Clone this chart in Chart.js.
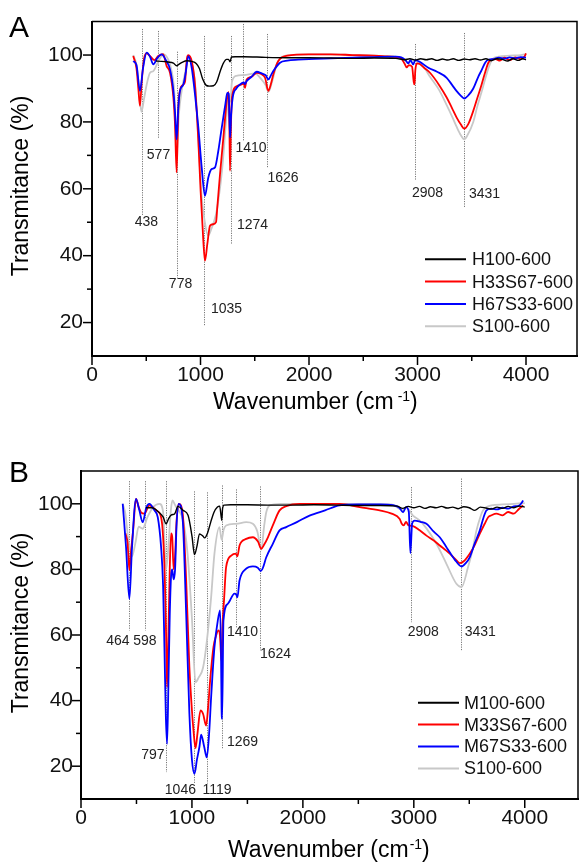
<!DOCTYPE html>
<html>
<head>
<meta charset="utf-8">
<script src="https://cdn.jsdelivr.net/npm/chart.js@4.4.1/dist/chart.umd.min.js"></script>
<style>
  html, body { margin: 0; padding: 0; background: #fff; }
  #wrap { position: relative; width: 580px; height: 864px; }
  canvas { position: absolute; left: 0; }
  #chartA { top: 0; }
  #chartB { top: 420px; }
</style>
</head>
<body>
<div id="wrap">
  <canvas id="chartA" width="580" height="420"></canvas>
  <canvas id="chartB" width="580" height="444"></canvas>
</div>
<script>
const FONT = '"Liberation Sans", Arial, sans-serif';

// axis ticks
const xTickValues = [0, 500, 1000, 1500, 2000, 2500, 3000, 3500, 4000];
const xTickLabels = ['0', '1000', '2000', '3000', '4000'];
const yTickLabels = ['20', '40', '60', '80', '100'];

// ---- panel A: FTIR spectra (wavenumber, transmittance %) ----
const seriesA = ['H100-600', 'H33S67-600', 'H67S33-600', 'S100-600'];

const waveA_H100 = [590, 640, 700, 750, 780, 800, 830, 875, 920, 960, 990, 1020, 1050, 1080, 1120, 1150, 1180, 1210, 1240, 1258, 1272, 1286, 1320, 1400, 1600, 1800, 2000, 2200, 2400, 2600, 2800, 2880, 2930, 2980, 3030, 3080, 3130, 3180, 3230, 3280, 3330, 3380, 3430, 3480, 3530, 3580, 3630, 3680, 3730, 3780, 3830, 3880, 3930, 3970, 4000];
const transA_H100 = [98.2, 98.1, 97.9, 97.6, 96.8, 97.2, 97.8, 98.3, 98.1, 97.5, 96, 92.8, 91, 90.7, 90.8, 92, 95, 97.5, 98.7, 98.7, 98.0, 99.4, 99.5, 99.5, 99.3, 99.2, 99.2, 99.1, 99.0, 99.1, 99.0, 98.6, 98.9, 98.5, 98.9, 98.6, 98.9, 98.4, 98.8, 98.5, 98.9, 98.4, 98.8, 98.6, 98.9, 98.5, 98.9, 98.3, 98.9, 98.7, 98.2, 98.9, 98.4, 98.9, 98.6];

const waveA_H33 = [380, 410, 427, 442, 458, 480, 504, 540, 575, 610, 655, 688, 719, 750, 765, 780, 796, 811, 836, 857, 875, 888, 919, 949, 980, 1001, 1026, 1041, 1063, 1088, 1118, 1143, 1155, 1180, 1210, 1241, 1258, 1266, 1272, 1280, 1290, 1333, 1380, 1400, 1410, 1425, 1470, 1518, 1560, 1595, 1625, 1650, 1671, 1717, 1800, 2000, 2200, 2400, 2600, 2700, 2840, 2880, 2900, 2920, 2950, 2965, 2972, 2980, 2995, 3020, 3060, 3115, 3200, 3269, 3320, 3361, 3400, 3431, 3470, 3514, 3550, 3591, 3625, 3653, 3680, 3720, 3760, 3800, 3850, 3900, 3950, 3985, 4000];
const transA_H33 = [99.7, 96, 90, 84.8, 92, 99, 100.5, 99.5, 98.5, 99.7, 100.3, 96.7, 94.7, 87.3, 79.3, 64.9, 84.5, 89.5, 91, 92, 99, 100, 98.2, 91.2, 74.3, 59.4, 44.5, 38.5, 43.5, 49, 49.4, 50, 54.5, 64.4, 75, 86, 89, 80, 65.4, 78, 87.3, 90.7, 91.2, 91.5, 90.2, 92.7, 93.5, 94.7, 94.3, 93.2, 89.3, 91.5, 94.2, 98.2, 99.8, 100.2, 100.2, 100, 99.8, 99.6, 99.2, 97.5, 96.3, 97, 96.5, 92, 91.2, 95.5, 97.5, 97.3, 96.2, 94.7, 91, 87.3, 84, 81.3, 79.2, 78, 79.5, 83.3, 87, 91.2, 95, 97.7, 98.6, 98.8, 98.3, 99.2, 98.5, 99.3, 98.8, 99.5, 100.5];

const waveA_H67 = [380, 410, 442, 470, 504, 535, 565, 600, 642, 680, 719, 750, 765, 780, 795, 811, 842, 865, 888, 919, 949, 980, 1011, 1041, 1072, 1103, 1134, 1164, 1190, 1210, 1230, 1247, 1260, 1272, 1282, 1297, 1330, 1364, 1400, 1410, 1425, 1470, 1518, 1564, 1600, 1625, 1650, 1671, 1733, 1800, 1900, 2000, 2200, 2400, 2600, 2800, 2850, 2890, 2915, 2935, 2960, 2980, 3020, 3100, 3180, 3269, 3320, 3361, 3400, 3431, 3470, 3514, 3560, 3591, 3625, 3653, 3700, 3750, 3800, 3850, 3900, 3950, 4000];
const transA_H67 = [98.2, 97, 89.3, 96, 100.7, 99.5, 97.2, 99, 100.2, 98.5, 95.7, 89.3, 83, 74.8, 84, 89.3, 91.2, 95, 99.7, 96.2, 88.3, 78.4, 66.4, 57.9, 63.4, 65.9, 66.4, 71.3, 77, 81.3, 85.5, 88.7, 88.5, 75.3, 82, 87.3, 90, 91.2, 91.8, 91.3, 92.2, 93.5, 95, 94.5, 94, 92.7, 94, 95.2, 97.7, 98.3, 98.6, 98.8, 99, 99.2, 99.4, 99.5, 99.3, 98.5, 97.5, 98.5, 97.2, 98.5, 98, 96.2, 95, 93.2, 91, 89.2, 87.8, 87, 88, 90, 93.5, 95.5, 97.8, 98.6, 98.8, 99.2, 98.9, 99.3, 99, 99.4, 99.2];

const waveA_S100 = [380, 410, 432, 455, 480, 504, 535, 565, 613, 657, 700, 737, 760, 780, 800, 830, 860, 885, 920, 950, 980, 1010, 1040, 1070, 1100, 1140, 1164, 1200, 1240, 1262, 1274, 1290, 1330, 1400, 1500, 1560, 1600, 1626, 1660, 1700, 1750, 1850, 2000, 2200, 2400, 2600, 2800, 2880, 2915, 2950, 2980, 3000, 3050, 3115, 3200, 3269, 3320, 3361, 3400, 3431, 3460, 3514, 3550, 3591, 3625, 3653, 3690, 3750, 3850, 3950, 4000];
const transA_S100 = [100, 97, 91, 83, 87, 91.2, 94.7, 95.2, 98.2, 100.2, 98.8, 94.7, 88, 70, 82, 90, 95, 99.5, 97, 91.5, 75, 58, 50, 46, 48, 52, 56.4, 66, 82, 88, 86, 92, 93.8, 94, 94.5, 92.8, 91, 89, 92, 97, 99.5, 100, 100.2, 100.2, 100, 99.8, 99.5, 98.5, 97.5, 98.5, 98.2, 98, 96.8, 93.5, 89.5, 85, 81.5, 78.5, 76, 74.8, 76, 80, 84.5, 89, 93, 96, 98.8, 99.5, 99.8, 100, 100.3];

const peakTextA = ['438', '577', '778', '1035', '1274', '1410', '1626', '2908', '3431'];
const peakWaveA = [458, 605, 781, 1032, 1278, 1389, 1610, 2977, 3426];

// ---- panel B ----
const seriesB = ['M100-600', 'M33S67-600', 'M67S33-600', 'S100-600'];

const waveB_M100 = [585, 640, 700, 740, 767, 790, 815, 845, 874, 920, 965, 1001, 1023, 1045, 1068, 1095, 1115, 1140, 1170, 1200, 1230, 1250, 1262, 1269, 1276, 1290, 1350, 1500, 1700, 1900, 2100, 2300, 2500, 2700, 2850, 2900, 2950, 3000, 3050, 3100, 3150, 3200, 3250, 3300, 3350, 3400, 3450, 3500, 3550, 3600, 3650, 3700, 3750, 3800, 3850, 3900, 3950, 4000];
const transB_M100 = [98.8, 98.8, 97.5, 96, 93.9, 95.5, 96.6, 97, 99.2, 98, 96.5, 90, 84.5, 87, 90.8, 90.3, 89.6, 91, 94.5, 97.5, 99, 99.3, 96.5, 95, 98.5, 99.6, 99.7, 99.7, 99.6, 99.6, 99.7, 99.6, 99.5, 99.5, 99.3, 98.6, 99.2, 98.8, 99.2, 98.6, 99.1, 98.8, 99.2, 98.7, 99.0, 98.5, 99.1, 98.8, 98.0, 99.0, 98.7, 98.4, 99.0, 98.6, 99.2, 98.8, 99.3, 99.0];

const waveB_M33 = [400, 420, 436, 452, 470, 496, 520, 541, 571, 616, 677, 722, 740, 755, 767, 776, 788, 800, 812, 822, 835, 848, 862, 883, 917, 948, 977, 1000, 1014, 1032, 1050, 1077, 1100, 1128, 1146, 1164, 1194, 1215, 1239, 1252, 1262, 1268, 1275, 1290, 1308, 1354, 1395, 1410, 1429, 1489, 1549, 1595, 1625, 1650, 1685, 1730, 1790, 1850, 1970, 2150, 2331, 2512, 2692, 2800, 2873, 2890, 2909, 2930, 2950, 2993, 3050, 3114, 3180, 3234, 3290, 3324, 3370, 3414, 3450, 3504, 3550, 3595, 3640, 3670, 3700, 3745, 3800, 3850, 3900, 3950, 3986];
const transB_M33 = [91, 88, 79.7, 86, 92, 101.5, 99, 97.4, 97, 99.5, 98, 95.9, 90, 78, 60, 44.1, 60, 80, 91, 90, 80, 84, 95, 100, 96.9, 76.6, 50.2, 37, 30.9, 25.5, 30, 37, 36, 32.4, 38, 46.1, 56.3, 59.5, 61.4, 60, 54, 52, 62, 71, 80.7, 84.2, 84.8, 84, 87.3, 89.3, 89.8, 88.5, 86.3, 87.5, 89.8, 93.5, 98, 99.3, 100, 100, 100, 99, 98, 97, 95.4, 94, 93.4, 94.5, 93.5, 93.2, 92, 90.3, 88.8, 87.3, 85.8, 84.8, 83.3, 81.9, 82.5, 84.8, 87.5, 90.9, 94, 95.9, 96.5, 97, 96.5, 97.5, 97, 98.5, 99.5];

const waveB_M67 = [376, 406, 436, 460, 496, 526, 556, 590, 616, 662, 692, 722, 740, 752, 765, 776, 788, 800, 812, 822, 835, 848, 862, 881, 917, 948, 977, 1000, 1023, 1045, 1068, 1083, 1110, 1134, 1155, 1173, 1203, 1233, 1254, 1262, 1267, 1272, 1284, 1323, 1384, 1400, 1410, 1429, 1489, 1549, 1594, 1620, 1640, 1670, 1729, 1790, 1850, 1950, 2060, 2200, 2331, 2500, 2700, 2812, 2870, 2903, 2930, 2955, 2969, 2985, 3008, 3060, 3114, 3180, 3234, 3290, 3324, 3380, 3430, 3470, 3504, 3550, 3595, 3630, 3655, 3700, 3750, 3800, 3850, 3900, 3950, 3986];
const transB_M67 = [100, 86.8, 71, 86.8, 101.5, 98, 94.4, 99, 100, 98, 95.9, 86.8, 75, 56.3, 35, 26.8, 45, 66, 78, 80, 77, 80, 94, 100, 94.9, 66.5, 36, 22, 17.7, 22, 26, 29.6, 26, 22.7, 30, 41, 56.3, 64.4, 67.5, 55, 38, 34.4, 64.4, 69.5, 72.6, 72.3, 71.5, 76.6, 80.2, 80.9, 80.5, 79.5, 80.5, 83.7, 87.8, 91.9, 92.9, 94.5, 96.4, 98, 99.5, 99.8, 99.8, 99.6, 98.8, 97.4, 99, 97.5, 85, 94, 94.9, 94.5, 93.9, 91.5, 89.8, 87, 85.2, 82.5, 80.9, 82, 83.7, 88, 91.9, 96, 98, 98.5, 98.3, 98.8, 98.5, 99.2, 99.5, 101];

const waveB_S100 = [376, 400, 430, 460, 490, 520, 556, 600, 650, 707, 740, 767, 790, 810, 824, 850, 880, 920, 960, 1000, 1032, 1060, 1100, 1134, 1173, 1203, 1248, 1268, 1285, 1308, 1399, 1489, 1549, 1590, 1625, 1650, 1670, 1700, 1800, 2000, 2400, 2800, 2870, 2903, 2930, 2993, 3050, 3114, 3204, 3294, 3384, 3430, 3489, 3530, 3565, 3600, 3625, 3700, 3800, 3900, 4000];
const transB_S100 = [100, 97, 88, 84, 88, 93, 92.4, 96, 99, 100, 97.5, 80, 88, 98, 101, 99.5, 98, 95, 85, 65, 45.6, 47, 50, 58, 71.5, 84.8, 92.9, 89, 92, 93.4, 93.9, 94.4, 93.9, 91.5, 86, 93, 97.4, 99.5, 100, 100, 100, 99.8, 98.5, 98, 99, 96.4, 95, 92.5, 87.8, 81.7, 75.6, 74.6, 80.7, 86, 91.9, 96, 98, 99.5, 99.8, 100, 100.2];

const peakTextB = ['464', '598', '797', '1046', '1119', '1269', '1410', '1624', '2908', '3431'];
const peakWaveB = [433, 574, 767, 1016, 1134, 1273, 1393, 1615, 2972, 3423];

// marker line geometry, in axis units: [line top, line bottom, label x, label y]
const peakGeomA = [[107.8, 51.9, 502, 49.9], [107.2, 74.9, 613, 70.1], [101, 33.4, 816, 31.6], [105.7, 19.1, 1240, 23.9],
  [105.7, 43.6, 1479, 49], [109.3, 74.3, 1465, 72.2], [106.3, 66.3, 1760, 63.3], [103.3, 62.4, 3092, 58.8], [106.6, 54.3, 3618, 58.5]];
const peakGeomB = [[106.9, 61.4, 332, 58.1], [106.9, 61.4, 576, 58.1], [106.9, 18.2, 648, 23.3], [103.8, 14.7, 896, 12.6],
  [103.5, 14.7, 1226, 12.6], [105.6, 25.4, 1456, 27.2], [104.4, 62.3, 1456, 60.8], [105.3, 55.3, 1754, 54.1],
  [105.1, 63.9, 3085, 60.9], [107.7, 55.3, 3599, 60.8]];

const seriesColors = ['#000000', '#ff0000', '#0000ff', '#c8c8c8'];
const seriesWidths = [1.4, 1.8, 1.8, 1.8];
const drawOrder = [0, 2, 1, 3];

function buildDatasets(names, waves, trans) {
  return names.map((name, i) => ({
    label: name,
    data: waves[i].map((w, j) => ({ x: w, y: trans[i][j] })),
    borderColor: seriesColors[i],
    backgroundColor: seriesColors[i],
    borderWidth: seriesWidths[i],
    pointRadius: 0,
    fill: false,
    cubicInterpolationMode: 'monotone',
    order: drawOrder[i]
  }));
}

const panelDecor = {
  id: 'panelDecor',
  beforeDatasetsDraw(chart, args, o) {
    const { ctx, scales: { x, y } } = chart;
    ctx.save();
    ctx.strokeStyle = '#555';
    ctx.lineWidth = 0.8;
    ctx.setLineDash([1.2, 1.2]);
    o.peakWave.forEach((w, i) => {
      const g = o.peakGeom[i];
      const px = Math.round(x.getPixelForValue(w)) + 0.5;
      ctx.beginPath();
      ctx.moveTo(px, y.getPixelForValue(g[0]));
      ctx.lineTo(px, y.getPixelForValue(g[1]));
      ctx.stroke();
    });
    ctx.restore();
  },
  afterDraw(chart, args, o) {
    const { ctx, chartArea: a, scales: { x, y } } = chart;
    ctx.save();

    // rest of the frame
    ctx.strokeStyle = '#000';
    ctx.lineWidth = 1.5;
    ctx.beginPath();
    ctx.moveTo(a.left, a.top);
    ctx.lineTo(a.right, a.top);
    ctx.lineTo(a.right, a.bottom);
    ctx.stroke();

    // tick marks, outside
    x.ticks.forEach(t => {
      const px = x.getPixelForValue(t.value);
      const len = t.label ? 8 : 4;
      ctx.beginPath();
      ctx.moveTo(px, a.bottom + 1);
      ctx.lineTo(px, a.bottom + 1 + len);
      ctx.stroke();
    });
    y.ticks.forEach(t => {
      if (t.value < 20 || t.value > 100) return;
      const py = y.getPixelForValue(t.value);
      const len = t.label ? 8 : 4;
      ctx.beginPath();
      ctx.moveTo(a.left - 1, py);
      ctx.lineTo(a.left - 1 - len, py);
      ctx.stroke();
    });

    // peak labels
    ctx.fillStyle = '#222';
    ctx.font = '14px ' + FONT;
    ctx.textAlign = 'center';
    ctx.textBaseline = 'middle';
    o.peakText.forEach((t, i) => {
      const g = o.peakGeom[i];
      ctx.fillText(t, x.getPixelForValue(g[2]), y.getPixelForValue(g[3]));
    });

    // legend
    const lg = o.legend;
    ctx.font = '18px ' + FONT;
    ctx.textAlign = 'left';
    chart.data.datasets.forEach((ds, i) => {
      const ly = lg.y0 + i * lg.dy;
      ctx.strokeStyle = ds.borderColor;
      ctx.lineWidth = 2;
      ctx.beginPath();
      ctx.moveTo(lg.x1, ly);
      ctx.lineTo(lg.x2, ly);
      ctx.stroke();
      ctx.fillStyle = '#111';
      ctx.fillText(ds.label, lg.tx, ly + 1);
    });

    // panel letter
    ctx.fillStyle = '#000';
    ctx.font = '30px ' + FONT;
    ctx.textBaseline = 'alphabetic';
    ctx.fillText(o.letter, 9, o.letterY);

    // x title with superscript
    ctx.font = '23px ' + FONT;
    const main = 'Wavenumber (cm';
    ctx.fillText(main, o.xTitleX, o.xTitleY);
    let cx = o.xTitleX + ctx.measureText(main).width + o.supGap;
    ctx.font = '14px ' + FONT;
    ctx.fillText('-1', cx, o.xTitleY - 8.5);
    cx += ctx.measureText('-1').width;
    ctx.font = '23px ' + FONT;
    ctx.fillText(')', cx, o.xTitleY);

    // y title
    ctx.translate(22, o.yTitleY);
    ctx.rotate(-Math.PI / 2);
    ctx.textAlign = 'center';
    ctx.textBaseline = 'middle';
    ctx.fillText('Transmitance (%)', 0, 0);
    ctx.restore();
  }
};

function makeChart(id, datasets, box, xMax, deco) {
  const canvas = document.getElementById(id);
  const h = canvas.height;
  return new Chart(canvas, {
    type: 'line',
    data: { datasets },
    plugins: [panelDecor],
    options: {
      responsive: false,
      animation: false,
      events: [],
      layout: { padding: { top: box.top, right: 580 - box.right, left: 0, bottom: 0 } },
      scales: {
        x: {
          type: 'linear',
          min: 0,
          max: xMax,
          afterFit: s => { s.height = h - box.bottom; },
          afterBuildTicks: s => { s.ticks = xTickValues.map(v => ({ value: v })); },
          grid: { display: false, drawTicks: false },
          border: { display: true, color: '#000', width: 2 },
          ticks: {
            autoSkip: false,
            maxRotation: 0,
            minRotation: 0,
            padding: box.xPad,
            color: '#111',
            font: { family: FONT, size: 21 },
            callback: v => (xTickLabels.includes(String(v)) ? String(v) : '')
          }
        },
        y: {
          type: 'linear',
          min: 10,
          max: 110,
          afterFit: s => { s.width = box.left; },
          grid: { display: false, drawTicks: false },
          border: { display: true, color: '#000', width: 2 },
          ticks: {
            stepSize: 10,
            autoSkip: false,
            padding: box.yPad,
            color: '#111',
            font: { family: FONT, size: 21 },
            callback: v => (yTickLabels.includes(String(v)) ? String(v) : '')
          }
        }
      },
      plugins: {
        legend: { display: false },
        tooltip: { enabled: false },
        panelDecor: deco
      }
    }
  });
}

makeChart('chartA',
  buildDatasets(seriesA, [waveA_H100, waveA_H33, waveA_H67, waveA_S100], [transA_H100, transA_H33, transA_H67, transA_S100]),
  { left: 92, right: 577, top: 20, bottom: 356, xPad: 7, yPad: 9 }, 4470,
  { letter: 'A', letterY: 37, xTitleX: 213, xTitleY: 409, supGap: 4, yTitleY: 186,
    legend: { x1: 425, x2: 466, tx: 472, y0: 259.3, dy: 22.3 },
    peakText: peakTextA, peakWave: peakWaveA, peakGeom: peakGeomA });

makeChart('chartB',
  buildDatasets(seriesB, [waveB_M100, waveB_M33, waveB_M67, waveB_S100], [transB_M100, transB_M33, transB_M67, transB_S100]),
  { left: 81, right: 578, top: 51, bottom: 379, xPad: 7, yPad: 8 }, 4480,
  { letter: 'B', letterY: 62, xTitleX: 228, xTitleY: 437, supGap: 1, yTitleY: 203,
    legend: { x1: 418, x2: 459, tx: 464, y0: 282.7, dy: 21.9 },
    peakText: peakTextB, peakWave: peakWaveB, peakGeom: peakGeomB });
</script>
</body>
</html>
